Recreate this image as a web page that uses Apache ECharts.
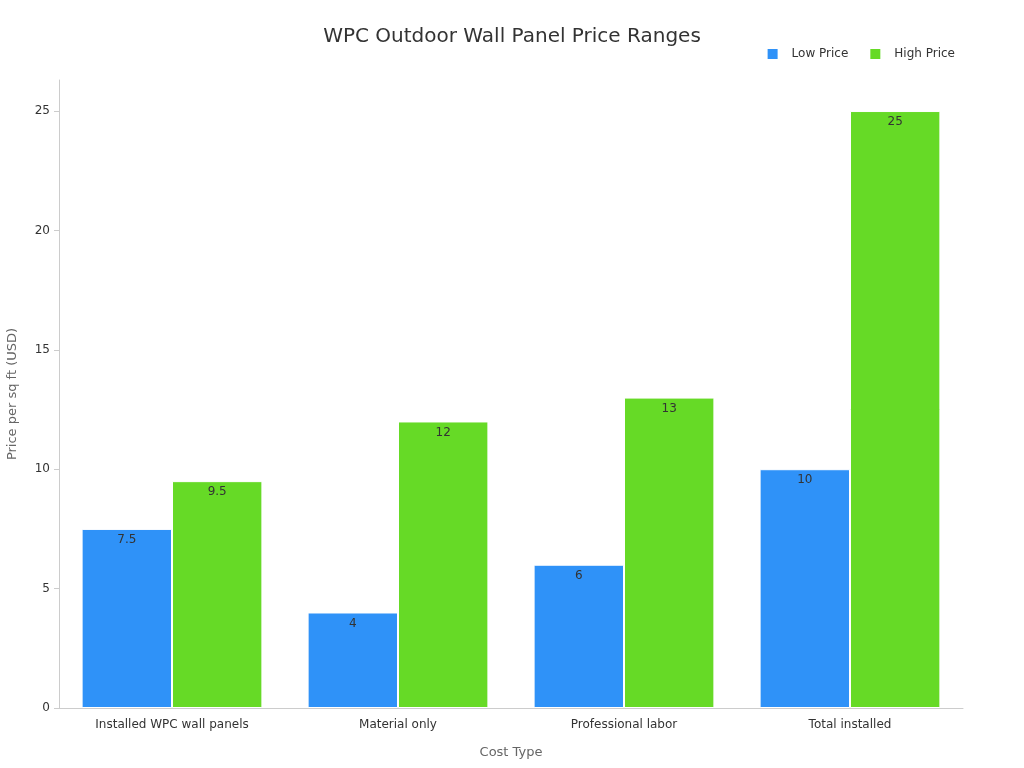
<!DOCTYPE html>
<html><head><meta charset="utf-8">
<script src="https://cdn.jsdelivr.net/npm/echarts@6/dist/echarts.min.js"></script>
<style>html,body{margin:0;padding:0}#c{width:1024px;height:768px}</style>
</head><body><div id="c"></div>
<script>
const categories = ["Installed WPC wall panels","Material only","Professional labor","Total installed"];
const lowPrice = [7.5, 4, 6, 10];
const highPrice = [9.5, 12, 13, 25];
const chart = echarts.init(document.getElementById('c'));
const lbl = {show:true, position:'insideTop', color:'#333', fontSize:12, fontFamily:'DejaVu Sans'};
chart.setOption({
  textStyle:{fontFamily:'DejaVu Sans'},
  title:{text:'WPC Outdoor Wall Panel Price Ranges', left:'center', top:22, textStyle:{fontSize:20, fontWeight:'normal', color:'#333', fontFamily:'DejaVu Sans'}},
  legend:{right:64, top:42, itemWidth:12, itemHeight:12, itemGap:20, textStyle:{fontSize:12, color:'#333', padding:[0,0,0,8]}, data:['Low Price','High Price'], icon:'rect'},
  grid:{left:59, right:61, top:80, bottom:60, containLabel:false, outerBoundsMode:'none'},
  xAxis:{type:'category', data:categories, name:'Cost Type', nameLocation:'middle', nameGap:38, nameTextStyle:{fontSize:13,color:'#666'},
    axisLine:{lineStyle:{color:'#ccc'}}, axisTick:{show:false}, axisLabel:{color:'#333', fontSize:12, margin:11}},
  yAxis:{type:'value', min:0, max:26.3, interval:5, name:'Price per sq ft (USD)', nameLocation:'middle', nameGap:40, nameTextStyle:{fontSize:13,color:'#666'},
    axisLine:{show:true, lineStyle:{color:'#ccc'}}, axisTick:{show:true, length:5, lineStyle:{color:'#ccc'}}, splitLine:{show:false},
    axisLabel:{color:'#333', fontSize:12, showMaxLabel:false, margin:9}},
  series:[
    {name:'Low Price', type:'bar', data:lowPrice, barGap:'0%', barCategoryGap:'20%', itemStyle:{color:'#2f92f8', borderColor:'#fff', borderWidth:1}, label:lbl},
    {name:'High Price', type:'bar', data:highPrice, itemStyle:{color:'#66da26', borderColor:'#fff', borderWidth:1}, label:lbl}
  ]
});
</script></body></html>
